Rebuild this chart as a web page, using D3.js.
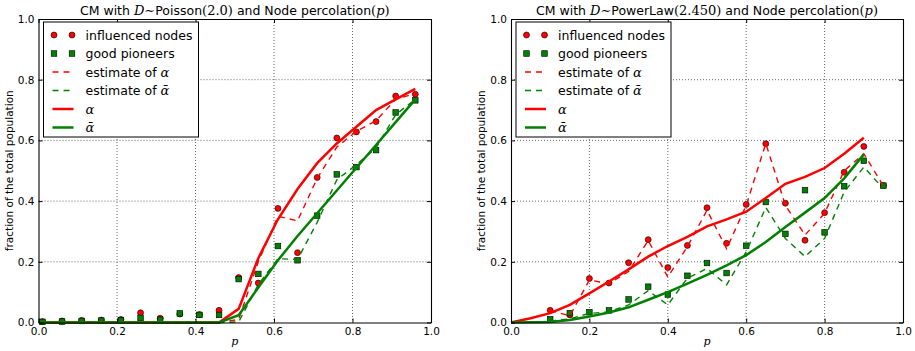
<!DOCTYPE html>
<html>
<head>
<meta charset="utf-8">
<script src="https://cdn.jsdelivr.net/npm/d3@7"></script>
<style>
  html, body { margin: 0; padding: 0; background: #fff; }
  svg { display: block; }
</style>
</head>
<body>
<div id="chart"></div>
<script>
// Two percolation panels: simulated points vs. estimates vs. theory

// ---- data ----
const tickValues = [0.0, 0.2, 0.4, 0.6, 0.8, 1.0];

// Poisson(2.0) panel
const pPoisson = [0.01, 0.06, 0.11, 0.16, 0.21, 0.26, 0.31, 0.36, 0.41, 0.46,
                  0.51, 0.56, 0.61, 0.66, 0.71, 0.76, 0.81, 0.86, 0.91, 0.96];
const poissonInfluenced = [0.003, 0.005, 0.007, 0.008, 0.010, 0.032, 0.014, 0.028, 0.026, 0.040,
                           0.148, 0.130, 0.376, 0.230, 0.478, 0.608, 0.628, 0.662, 0.746, 0.752];
const poissonPioneers = [0.002, 0.003, 0.005, 0.006, 0.007, 0.015, 0.009, 0.030, 0.025, 0.025,
                         0.143, 0.160, 0.252, 0.205, 0.352, 0.488, 0.512, 0.568, 0.692, 0.732];
const poissonEstAlpha = [0, 0, 0, 0, 0, 0, 0, 0, 0, 0,
                         0.010, 0.200, 0.350, 0.335, 0.475, 0.578, 0.630, 0.665, 0.735, 0.755];
const poissonEstAlphaBar = [0, 0, 0, 0, 0, 0, 0, 0, 0, 0,
                            0.002, 0.125, 0.210, 0.208, 0.330, 0.470, 0.520, 0.575, 0.685, 0.735];
const poissonAlpha = [0, 0, 0, 0, 0, 0, 0, 0, 0, 0,
                      0.045, 0.212, 0.340, 0.440, 0.525, 0.590, 0.645, 0.700, 0.735, 0.770];
const poissonAlphaBar = [0, 0, 0, 0, 0, 0, 0, 0, 0, 0,
                         0.024, 0.115, 0.205, 0.285, 0.360, 0.435, 0.510, 0.585, 0.660, 0.735];

// PowerLaw(2.450) panel
const pPowerLaw = [0.10, 0.15, 0.20, 0.25, 0.30, 0.35, 0.40, 0.45, 0.50,
                   0.55, 0.60, 0.65, 0.70, 0.75, 0.80, 0.85, 0.90, 0.95];
const powerInfluenced = [0.040, 0.025, 0.145, 0.130, 0.197, 0.273, 0.181, 0.254, 0.378,
                         0.261, 0.389, 0.589, 0.393, 0.271, 0.362, 0.495, 0.580, 0.451];
const powerPioneers = [0.011, 0.031, 0.034, 0.040, 0.076, 0.118, 0.092, 0.154, 0.196,
                       0.163, 0.253, 0.397, 0.292, 0.436, 0.297, 0.449, 0.533, 0.451];
const powerEstAlpha = [0.040, 0.022, 0.140, 0.128, 0.168, 0.270, 0.150, 0.250, 0.370,
                       0.243, 0.386, 0.590, 0.386, 0.288, 0.360, 0.500, 0.556, 0.450];
const powerEstAlphaBar = [0.005, 0.012, 0.030, 0.035, 0.058, 0.105, 0.058, 0.146, 0.178,
                          0.124, 0.233, 0.379, 0.277, 0.217, 0.277, 0.430, 0.512, 0.441];
const pPowerLawTheory = [0.00, 0.05, 0.10, 0.15, 0.20, 0.25, 0.30, 0.35, 0.40, 0.45,
                         0.50, 0.55, 0.60, 0.65, 0.70, 0.75, 0.80, 0.85, 0.90];
const powerAlpha = [0, 0.014, 0.031, 0.058, 0.096, 0.135, 0.175, 0.217, 0.252, 0.282,
                    0.317, 0.340, 0.365, 0.410, 0.457, 0.480, 0.509, 0.556, 0.609];
const powerAlphaBar = [0, 0.001, 0.002, 0.008, 0.020, 0.033, 0.050, 0.075, 0.100, 0.128,
                       0.157, 0.188, 0.222, 0.265, 0.315, 0.362, 0.410, 0.475, 0.554];

// text pieces: [text, style] where style is 'sans', 'math' (upright serif) or 'ital'
const poissonTitle = [['CM with ', 'sans'], ['D', 'ital'], ['\u223C', 'math'], ['Poisson', 'sans'],
                      ['(2.0)', 'math'], [' and Node percolation', 'sans'], ['(', 'math'], ['p', 'ital'], [')', 'math']];
const powerTitle = [['CM with ', 'sans'], ['D', 'ital'], ['\u223C', 'math'], ['PowerLaw', 'sans'],
                    ['(2.450)', 'math'], [' and Node percolation', 'sans'], ['(', 'math'], ['p', 'ital'], [')', 'math']];
const legendLabels = [
    [['influenced nodes', 'sans']],
    [['good pioneers', 'sans']],
    [['estimate of ', 'sans'], ['\u03B1', 'ital']],
    [['estimate of ', 'sans'], ['\u1FB1', 'ital']],
    [['\u03B1', 'ital']],
    [['\u1FB1', 'ital']]
];

const RED = '#ff0000';
const GREEN = '#008000';
const SANS = '"DejaVu Sans", sans-serif';
const SERIF = '"DejaVu Serif", serif';
const TOP = 19;
const BOTTOM = 322.5;

const svg = d3.select('#chart')
    .append('svg')
    .attr('width', 915)
    .attr('height', 351);

// append styled tspans for mixed sans / math text
function richText(sel, pieces, size) {
    pieces.forEach(([t, kind]) => {
        sel.append('tspan')
            .attr('font-family', kind === 'sans' ? SANS : SERIF)
            .attr('font-style', kind === 'ital' ? 'italic' : 'normal')
            .attr('font-size', kind === 'sans' ? size : size + 0.5)
            .text(t);
    });
}

function drawPanel(cfg) {
    const x = d3.scaleLinear().domain([0, 1]).range([cfg.left, cfg.right]);
    const y = d3.scaleLinear().domain([0, 1]).range([BOTTOM, TOP]);
    const g = svg.append('g');

    // dotted grid
    const inner = tickValues.slice(1, -1);
    g.selectAll('.gx').data(inner).enter().append('line')
        .attr('x1', d => x(d)).attr('x2', d => x(d))
        .attr('y1', TOP).attr('y2', BOTTOM)
        .attr('stroke', '#444').attr('stroke-width', 0.8).attr('stroke-dasharray', '1,2');
    g.selectAll('.gy').data(inner).enter().append('line')
        .attr('y1', d => y(d)).attr('y2', d => y(d))
        .attr('x1', cfg.left).attr('x2', cfg.right)
        .attr('stroke', '#444').attr('stroke-width', 0.8).attr('stroke-dasharray', '1,2');

    const line = d3.line().x(d => x(d[0])).y(d => y(d[1]));
    const zip = (a, b) => a.map((v, i) => [v, b[i]]);

    // markers
    g.selectAll('.inf').data(zip(cfg.p, cfg.influenced)).enter().append('circle')
        .attr('cx', d => x(d[0])).attr('cy', d => y(d[1])).attr('r', 3)
        .attr('fill', RED).attr('stroke', '#000').attr('stroke-width', 0.6);
    g.selectAll('.pio').data(zip(cfg.p, cfg.pioneers)).enter().append('rect')
        .attr('x', d => x(d[0]) - 2.8).attr('y', d => y(d[1]) - 2.8)
        .attr('width', 5.6).attr('height', 5.6)
        .attr('fill', GREEN).attr('stroke', '#000').attr('stroke-width', 0.6);

    // estimate lines (dashed) and theory (solid)
    g.append('path').attr('d', line(zip(cfg.p, cfg.estAlpha)))
        .attr('fill', 'none').attr('stroke', RED).attr('stroke-width', 1.4).attr('stroke-dasharray', '6,5');
    g.append('path').attr('d', line(zip(cfg.p, cfg.estAlphaBar)))
        .attr('fill', 'none').attr('stroke', GREEN).attr('stroke-width', 1.4).attr('stroke-dasharray', '6,5');
    g.append('path').attr('d', line(zip(cfg.pTheory, cfg.alpha)))
        .attr('fill', 'none').attr('stroke', RED).attr('stroke-width', 2.5);
    g.append('path').attr('d', line(zip(cfg.pTheory, cfg.alphaBar)))
        .attr('fill', 'none').attr('stroke', GREEN).attr('stroke-width', 2.5);

    // axes on all four sides, ticks pointing inward
    const fmt = d3.format('.1f');
    const axes = [
        [d3.axisBottom(x).tickValues(tickValues).tickFormat(fmt).tickPadding(5), `translate(0,${BOTTOM})`],
        [d3.axisTop(x).tickValues(tickValues).tickFormat(''), `translate(0,${TOP})`],
        [d3.axisLeft(y).tickValues(tickValues).tickFormat(fmt).tickPadding(4), `translate(${cfg.left},0)`],
        [d3.axisRight(y).tickValues(tickValues).tickFormat(''), `translate(${cfg.right},0)`]
    ];
    axes.forEach(([ax, tr]) => {
        const a = g.append('g').attr('transform', tr)
            .call(ax.tickSize(-4).tickSizeOuter(0));
        a.attr('font-family', SANS).attr('font-size', 10.5);
        a.select('.domain').attr('stroke', '#000').attr('stroke-width', 1.1);
        a.selectAll('.tick line').attr('stroke', '#000');
        a.selectAll('.tick text').attr('fill', '#000');
    });

    // axis labels
    g.append('text')
        .attr('x', (cfg.left + cfg.right) / 2).attr('y', 345)
        .attr('text-anchor', 'middle')
        .attr('font-family', SERIF).attr('font-style', 'italic').attr('font-size', 11)
        .text('p');
    g.append('text')
        .attr('transform', `translate(${cfg.left - 26},${(TOP + BOTTOM) / 2}) rotate(-90)`)
        .attr('text-anchor', 'middle')
        .attr('font-family', SANS).attr('font-size', 10.5)
        .text('fraction of the total population');

    // title
    const title = g.append('text')
        .attr('x', (cfg.left + cfg.right) / 2).attr('y', 14.5)
        .attr('text-anchor', 'middle');
    richText(title, cfg.title, 12.5);

    // legend
    const lx = cfg.left + 5, ly = TOP + 3;
    const leg = g.append('g').attr('transform', `translate(${lx},${ly})`);
    leg.append('rect')
        .attr('width', 155).attr('height', 115)
        .attr('fill', '#fff').attr('stroke', '#000').attr('stroke-width', 1);
    const rowY = i => 13 + i * 18.5;
    leg.selectAll('.lc').data([10.5, 28.5]).enter().append('circle')
        .attr('cx', d => d).attr('cy', rowY(0)).attr('r', 3)
        .attr('fill', RED).attr('stroke', '#000').attr('stroke-width', 0.6);
    leg.selectAll('.ls').data([10.5, 28.5]).enter().append('rect')
        .attr('x', d => d - 2.8).attr('y', rowY(1) - 2.8).attr('width', 5.6).attr('height', 5.6)
        .attr('fill', GREEN).attr('stroke', '#000').attr('stroke-width', 0.6);
    [[RED, '6,5', 1.4], [GREEN, '6,5', 1.4], [RED, null, 2.5], [GREEN, null, 2.5]].forEach(([c, dash, w], i) => {
        leg.append('line')
            .attr('x1', 9).attr('x2', 30).attr('y1', rowY(i + 2)).attr('y2', rowY(i + 2))
            .attr('stroke', c).attr('stroke-width', w).attr('stroke-dasharray', dash);
    });
    legendLabels.forEach((pieces, i) => {
        const t = leg.append('text').attr('x', 42).attr('y', rowY(i) + 4.5);
        richText(t, pieces, 12.5);
    });
}

drawPanel({
    left: 38.5, right: 431,
    p: pPoisson, pTheory: pPoisson,
    influenced: poissonInfluenced, pioneers: poissonPioneers,
    estAlpha: poissonEstAlpha, estAlphaBar: poissonEstAlphaBar,
    alpha: poissonAlpha, alphaBar: poissonAlphaBar,
    title: poissonTitle
});

drawPanel({
    left: 511, right: 903,
    p: pPowerLaw, pTheory: pPowerLawTheory,
    influenced: powerInfluenced, pioneers: powerPioneers,
    estAlpha: powerEstAlpha, estAlphaBar: powerEstAlphaBar,
    alpha: powerAlpha, alphaBar: powerAlphaBar,
    title: powerTitle
});
</script>
</body>
</html>
